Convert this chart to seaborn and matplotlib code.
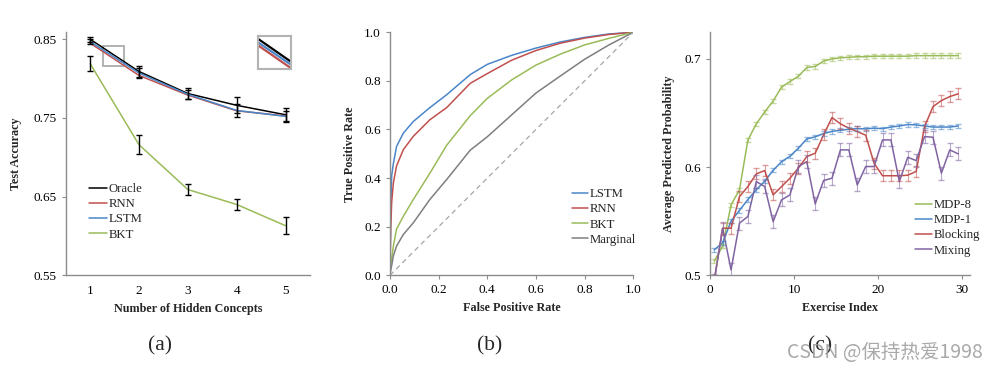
import numpy as np
import pandas as pd
import seaborn as sns
import matplotlib.pyplot as plt
from matplotlib.patches import Rectangle

# ---------------- data ----------------
# (a) test accuracy vs number of hidden concepts
concepts = [1, 2, 3, 4, 5]
oracle = [0.850, 0.809, 0.781, 0.766, 0.754]
rnn = [0.845, 0.804, 0.779, 0.759, 0.7525]
lstm = [0.847, 0.807, 0.780, 0.7595, 0.752]
bkt_acc = [0.819, 0.716, 0.659, 0.640, 0.613]
oracle_err = [0.003, 0.007, 0.007, 0.010, 0.008]
lstm_err = [0.003, 0.006, 0.006, 0.008, 0.007]
bkt_err = [0.010, 0.012, 0.0076, 0.0068, 0.011]

# (b) ROC curves
fpr = [0, 0.003, 0.007, 0.014, 0.027, 0.055, 0.096, 0.164, 0.233, 0.33,
       0.4, 0.5, 0.6, 0.7, 0.8, 0.9, 1.0]
tpr_lstm = [0, 0.27, 0.41, 0.46, 0.53, 0.585, 0.633, 0.69, 0.743, 0.826,
            0.868, 0.905, 0.935, 0.96, 0.979, 0.993, 1.0]
tpr_rnn = [0, 0.19, 0.30, 0.38, 0.45, 0.517, 0.572, 0.64, 0.69, 0.79,
           0.83, 0.885, 0.925, 0.955, 0.976, 0.991, 1.0]
tpr_bkt = [0, 0.04, 0.07, 0.12, 0.19, 0.243, 0.312, 0.42, 0.535, 0.657,
           0.728, 0.804, 0.865, 0.91, 0.948, 0.975, 1.0]
tpr_marginal = [0, 0.02, 0.04, 0.08, 0.12, 0.168, 0.216, 0.312, 0.394, 0.515,
                0.57, 0.66, 0.75, 0.82, 0.889, 0.948, 1.0]

# (c) average predicted probability per exercise
exercise = [0.5, 1.5, 2.5, 3.5, 4.5, 5.5, 6.5, 7.5, 8.5, 9.5,
            10.5, 11.5, 12.5, 13.5, 14.5, 15.5, 16.5, 17.5, 18.5, 19.5,
            20.5, 21.5, 22.5, 23.5, 24.5, 25.5, 26.5, 27.5, 28.5, 29.5]
mdp8 = [0.513, 0.527, 0.565, 0.579, 0.625, 0.640, 0.651, 0.661, 0.674, 0.679,
        0.684, 0.692, 0.693, 0.698, 0.700, 0.701, 0.7015, 0.702, 0.702, 0.7025,
        0.7025, 0.7025, 0.7025, 0.7025, 0.703, 0.703, 0.703, 0.703, 0.703, 0.703]
mdp1 = [0.5235, 0.530, 0.550, 0.560, 0.570, 0.579, 0.587, 0.597, 0.605, 0.610,
        0.6175, 0.626, 0.628, 0.631, 0.633, 0.634, 0.635, 0.6356, 0.6353, 0.636,
        0.6355, 0.637, 0.638, 0.6393, 0.639, 0.638, 0.637, 0.637, 0.637, 0.638]
blocking = [0.495, 0.5435, 0.5435, 0.5727, 0.582, 0.5937, 0.5968, 0.5743, 0.582, 0.5897,
            0.599, 0.6097, 0.6128, 0.6298, 0.6458, 0.640, 0.636, 0.6328, 0.6295, 0.6036,
            0.592, 0.592, 0.592, 0.5925, 0.596, 0.6374, 0.6559, 0.6615, 0.6652, 0.6677]
mixing = [0.495, 0.5435, 0.505, 0.5482, 0.5543, 0.5866, 0.582, 0.5496, 0.5697, 0.5743,
          0.6005, 0.605, 0.566, 0.5876, 0.5897, 0.6159, 0.6159, 0.5835, 0.6005, 0.6005,
          0.6251, 0.6251, 0.5866, 0.6091, 0.606, 0.6282, 0.6276, 0.5944, 0.6159, 0.6122]
err_c = {'MDP-8': 0.002, 'MDP-1': 0.002, 'Blocking': 0.005, 'Mixing': 0.006}

# ---------------- style ----------------
sns.set_style('white')
plt.rcParams['font.family'] = ['Liberation Serif', 'DejaVu Serif']
plt.rcParams['axes.edgecolor'] = '#8c8c8c'
plt.rcParams['axes.linewidth'] = 1.0
plt.rcParams['xtick.color'] = '#8c8c8c'
plt.rcParams['ytick.color'] = '#8c8c8c'
plt.rcParams['xtick.labelcolor'] = 'black'
plt.rcParams['ytick.labelcolor'] = 'black'

BLUE = '#4a86c8'
RED = '#c0504d'
GREEN = '#9bbb59'
GREY = '#7f7f7f'
PURPLE = '#8064a2'

fig = plt.figure(figsize=(10.03, 3.71), dpi=100)
ax_a = fig.add_axes([0.0655, 0.258, 0.2435, 0.656])
ax_b = fig.add_axes([0.3888, 0.258, 0.2426, 0.655])
ax_c = fig.add_axes([0.7079, 0.258, 0.2592, 0.655])

tick_fs = 9.5
lab_fs = 8.7
leg_fs = 9.2

for ax in (ax_a, ax_b, ax_c):
    sns.despine(ax=ax)
    ax.tick_params(axis='both', labelsize=tick_fs, length=3, width=0.8,
                   direction='out', left=True, bottom=True)

# ---------------- (a) ----------------
df_a = pd.DataFrame({'concepts': concepts * 4,
                     'acc': oracle + rnn + lstm + bkt_acc,
                     'model': ['Oracle'] * 5 + ['RNN'] * 5 + ['LSTM'] * 5 + ['BKT'] * 5})
pal_a = {'Oracle': 'black', 'RNN': RED, 'LSTM': BLUE, 'BKT': GREEN}
sns.lineplot(data=df_a, x='concepts', y='acc', hue='model', palette=pal_a,
             ax=ax_a, linewidth=1.1)
ax_a.errorbar(concepts, oracle, yerr=oracle_err, fmt='none', ecolor='black',
              elinewidth=1.0, capsize=2)
ax_a.errorbar(concepts, lstm, yerr=lstm_err, fmt='none', ecolor='black',
              elinewidth=1.0, capsize=2)
ax_a.errorbar(concepts, bkt_acc, yerr=bkt_err, fmt='none', ecolor='black',
              elinewidth=1.0, capsize=2)
ax_a.set_xlim(0.5, 5.5)
ax_a.set_ylim(0.55, 0.8593)
ax_a.set_xticks(concepts)
ax_a.set_yticks([0.55, 0.65, 0.75, 0.85])
ax_a.set_yticklabels(['0.55', '0.65', '0.75', '0.85'])
ax_a.tick_params(axis='x', length=0, pad=7)
ax_a.set_xlabel('Number of Hidden Concepts', fontsize=lab_fs, fontweight='bold')
ax_a.set_ylabel('Test Accuracy', fontsize=lab_fs, fontweight='bold', labelpad=8)
ax_a.legend(loc='upper left', bbox_to_anchor=(0.07, 0.405), frameon=False,
            fontsize=leg_fs, handlelength=1.4, handletextpad=0.15,
            labelspacing=0.25, borderpad=0)

# zoom box and inset
ax_a.add_patch(Rectangle((1.27, 0.8157), 0.43, 0.0254, fill=False,
                         edgecolor='#a6a6a6', linewidth=1.2))
ax_in = fig.add_axes([258 / 1003, 1 - 69 / 371, 33 / 1003, 33 / 371])
for series, col in ((oracle, 'black'), (lstm, BLUE), (rnn, RED)):
    ax_in.plot(concepts, series, color=col, linewidth=1.6)
ax_in.set_xlim(1.27, 1.70)
ax_in.set_ylim(0.8157, 0.8411)
ax_in.set_xticks([])
ax_in.set_yticks([])
for s in ax_in.spines.values():
    s.set_edgecolor('#b3b3b3')
    s.set_linewidth(1.5)

# ---------------- (b) ----------------
df_b = pd.DataFrame({'fpr': fpr * 4,
                     'tpr': tpr_lstm + tpr_rnn + tpr_bkt + tpr_marginal,
                     'model': ['LSTM'] * len(fpr) + ['RNN'] * len(fpr)
                     + ['BKT'] * len(fpr) + ['Marginal'] * len(fpr)})
pal_b = {'LSTM': BLUE, 'RNN': RED, 'BKT': GREEN, 'Marginal': GREY}
sns.lineplot(data=df_b, x='fpr', y='tpr', hue='model', palette=pal_b,
             estimator=None, sort=False, ax=ax_b, linewidth=1.1)
ax_b.plot([0, 1], [0, 1], linestyle=(0, (4, 3)), color='#a6a6a6', linewidth=0.9)
ax_b.set_xlim(0, 1)
ax_b.set_ylim(0, 1)
ax_b.set_xticks([0, 0.2, 0.4, 0.6, 0.8, 1.0])
ax_b.set_yticks([0, 0.2, 0.4, 0.6, 0.8, 1.0])
ax_b.set_xticklabels(['0.0', '0.2', '0.4', '0.6', '0.8', '1.0'])
ax_b.set_yticklabels(['0.0', '0.2', '0.4', '0.6', '0.8', '1.0'])
ax_b.set_xlabel('False Positive Rate', fontsize=lab_fs, fontweight='bold')
ax_b.set_ylabel('True Positive Rate', fontsize=lab_fs, fontweight='bold', labelpad=6)
ax_b.legend(loc='upper left', bbox_to_anchor=(0.72, 0.385), frameon=False,
            fontsize=leg_fs, handlelength=1.3, handletextpad=0.15,
            labelspacing=0.25, borderpad=0)

# ---------------- (c) ----------------
n = len(exercise)
df_c = pd.DataFrame({'exercise': exercise * 4,
                     'prob': mdp8 + mdp1 + blocking + mixing,
                     'schedule': ['MDP-8'] * n + ['MDP-1'] * n
                     + ['Blocking'] * n + ['Mixing'] * n})
pal_c = {'MDP-8': GREEN, 'MDP-1': BLUE, 'Blocking': RED, 'Mixing': PURPLE}
sns.lineplot(data=df_c, x='exercise', y='prob', hue='schedule', palette=pal_c,
             estimator=None, ax=ax_c, linewidth=1.1)
for name, grp in df_c.groupby('schedule', sort=False):
    ax_c.errorbar(grp['exercise'], grp['prob'], yerr=err_c[name], fmt='none',
                  ecolor=pal_c[name], alpha=0.55, elinewidth=0.8, capsize=2)
ax_c.set_xlim(0, 30.9)
ax_c.set_ylim(0.5, 0.7246)
ax_c.set_xticks([0, 10, 20, 30])
ax_c.set_yticks([0.5, 0.6, 0.7])
ax_c.set_yticklabels(['0.5', '0.6', '0.7'])
ax_c.set_xlabel('Exercise Index', fontsize=lab_fs, fontweight='bold')
ax_c.set_ylabel('Average Predicted Probability', fontsize=lab_fs, fontweight='bold',
                labelpad=7)
ax_c.legend(loc='upper left', bbox_to_anchor=(0.765, 0.34), frameon=False,
            fontsize=leg_fs, handlelength=1.3, handletextpad=0.15,
            labelspacing=0.25, borderpad=0)

# captions
for xc, cap in ((160, '(a)'), (490, '(b)'), (820, '(c)')):
    fig.text(xc / 1003, 1 - 346 / 371, cap, ha='center', va='center', fontsize=15.5)

fig.text(787 / 1003, 1 - 352 / 371, 'CSDN @保持热爱1998', ha='left', va='center',
         fontsize=14, color='#9a9a9a', alpha=0.85,
         family=['Noto Sans CJK SC', 'DejaVu Sans'])

plt.savefig('out.png', dpi=100)
